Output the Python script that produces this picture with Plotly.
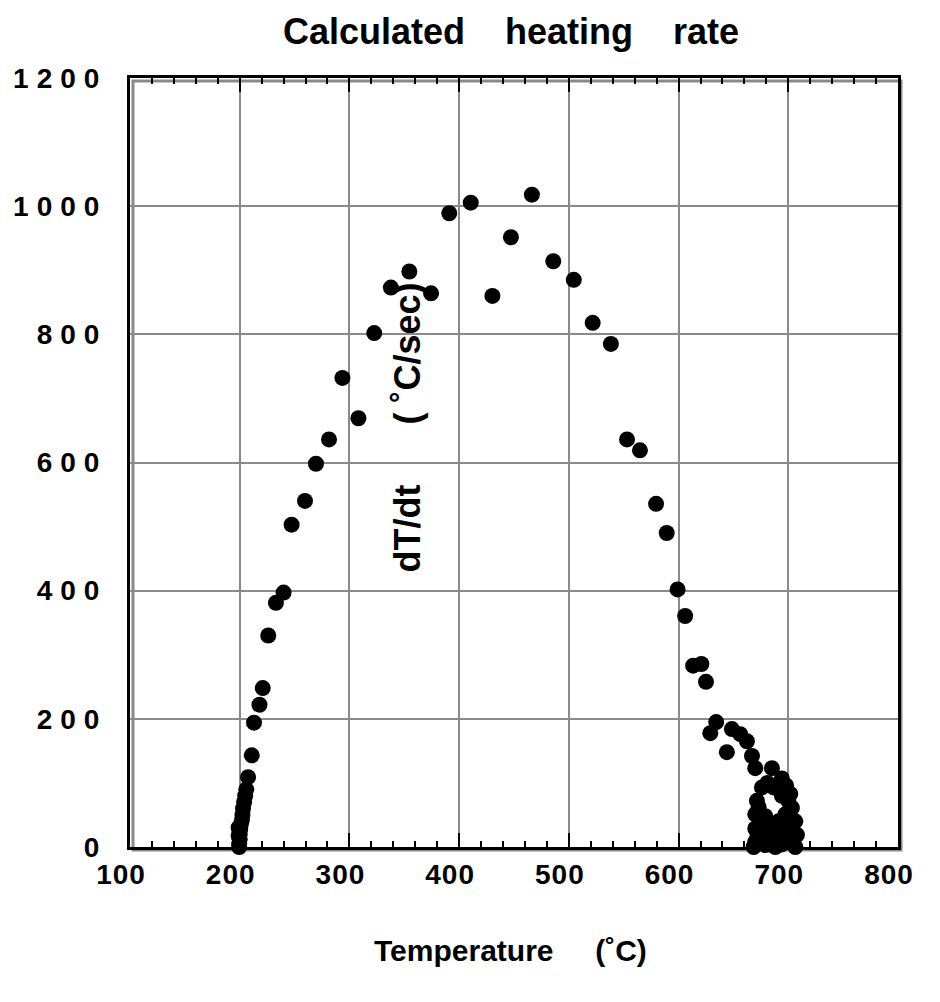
import plotly.graph_objects as go

# ---- data ----
temperature = [
    199.5, 199.5, 200, 200, 200.5, 201, 199, 199, 202, 202.5, 203, 204, 205, 206,
    207.6, 211, 213, 218, 221, 226, 233, 240, 247.3, 259.5, 269.5, 281.4, 293.6,
    308.2, 322.6, 337.8, 354.6, 374.4, 391, 410.6, 430.3, 447.2, 466.3, 485.8,
    504.5, 521.7, 538.3, 553, 564.8, 579.5, 589.2, 599.1, 606, 613.3, 620.8, 625,
    634.3, 628.9, 648.6, 656.2, 662.3, 644, 666.9, 669.9, 685.1, 694.2, 701.8,
    676, 671.4, 669.9, 669.9, 669.9, 668.4, 679, 682, 691.2, 697.3, 703.3, 706.4,
    707.9, 706.4, 688.1, 679, 697.3, 685.1, 694.2, 686.6,
    672, 676, 678, 684, 690, 694, 700, 704, 673, 681, 698, 700,
]
heating_rate = [
    0, 5, 12, 20, 28, 35, 18, 30, 42, 50, 60, 70, 80, 90,
    109, 143, 194, 222, 248, 330, 381, 397, 503, 540, 598, 636, 732,
    669, 802, 873, 898, 864, 989, 1005.5, 860, 951.5, 1018, 914,
    885, 818, 785, 636, 619, 535.5, 490, 402, 360.5, 283, 285.6, 257.7,
    195, 177.6, 184, 176, 165, 148, 142, 123, 123, 107, 83,
    93, 72, 51, 29, 8, 0, 48, 29, 40, 51, 61, 40,
    19, 0, 0, 3, 13, 19, 80, 93,
    20, 38, 12, 6, 22, 4, 28, 10, 62, 100, 96, 72,
]
x_ticks = [100, 200, 300, 400, 500, 600, 700, 800]
y_ticks = [0, 200, 400, 600, 800, 1000, 1200]

title_text = "Calculated\u00a0\u00a0\u00a0 heating\u00a0\u00a0\u00a0 rate"
x_title = "Temperature\u00a0\u00a0\u00a0\u00a0 (˚C)"
y_title = "dT/dt\u00a0\u00a0\u00a0\u00a0\u00a0 ( ˚C/sec)"

W, H = 940, 1002
L, R, T, B = 130, 42, 78, 155
pw, ph = W - L - R, H - T - B

fig = go.Figure()
fig.add_trace(go.Scatter(
    x=temperature, y=heating_rate, mode="markers",
    marker=dict(size=16, color="black"),
    cliponaxis=False, showlegend=False, hoverinfo="skip",
))

font_main = "Liberation Sans, Arial, sans-serif"

fig.update_layout(
    width=W, height=H,
    margin=dict(l=L, r=R, t=T, b=B),
    paper_bgcolor="white", plot_bgcolor="white",
    title=dict(text=title_text, x=511 / W, xanchor="center",
               y=1 - 31 / H, yanchor="middle", yref="container",
               font=dict(family=font_main, size=36, color="black", weight="bold")),
    xaxis=dict(
        range=[100, 800], tickvals=x_ticks, ticktext=[str(v) for v in x_ticks],
        showgrid=True, gridcolor="#8a8a8a", gridwidth=2,
        showline=True, linecolor="black", linewidth=3, mirror="allticks",
        ticks="inside", ticklen=14, tickwidth=2, tickcolor="black",
        minor=dict(dtick=20, ticks="inside", ticklen=6, tickwidth=2,
                   tickcolor="black", showgrid=False),
        tickfont=dict(family=font_main, size=28, color="black", weight="bold"),
        ticklabelshift=-9,
        zeroline=False,
    ),
    yaxis=dict(
        range=[0, 1200], tickvals=y_ticks, ticktext=[str(v) for v in y_ticks],
        showgrid=True, gridcolor="#8a8a8a", gridwidth=2,
        showline=True, linecolor="black", linewidth=3, mirror=True,
        ticks="", ticklabelstandoff=14,
        tickfont=dict(family=font_main, size=28, color="black", weight="bold"),
        zeroline=False,
    ),
    shapes=[dict(
        type="rect", xref="paper", yref="paper",
        x0=3 / pw, x1=1 + 3 / pw, y0=-3 / ph, y1=1 - 3 / ph,
        line=dict(color="#8a8a8a", width=3), layer="below",
    )],
    annotations=[
        dict(text=x_title, xref="paper", yref="paper",
             x=(510 - L) / pw, y=-(950 - (H - B)) / ph,
             xanchor="center", yanchor="middle", showarrow=False,
             font=dict(family=font_main, size=30, color="black", weight="bold")),
        dict(text=y_title, xref="x", yref="y", x=353, y=654,
             textangle=-90, xanchor="center", yanchor="middle", showarrow=False,
             font=dict(family=font_main, size=36, color="black", weight="bold")),
    ],
)

post = """
var s=document.createElement('style');
s.textContent='body{margin:0;} .ytick text{letter-spacing:8px;} .xtick text{letter-spacing:1px;}';
document.head.appendChild(s);
"""
fig.write_html("out.html", post_script=post, config={"displayModeBar": False})
